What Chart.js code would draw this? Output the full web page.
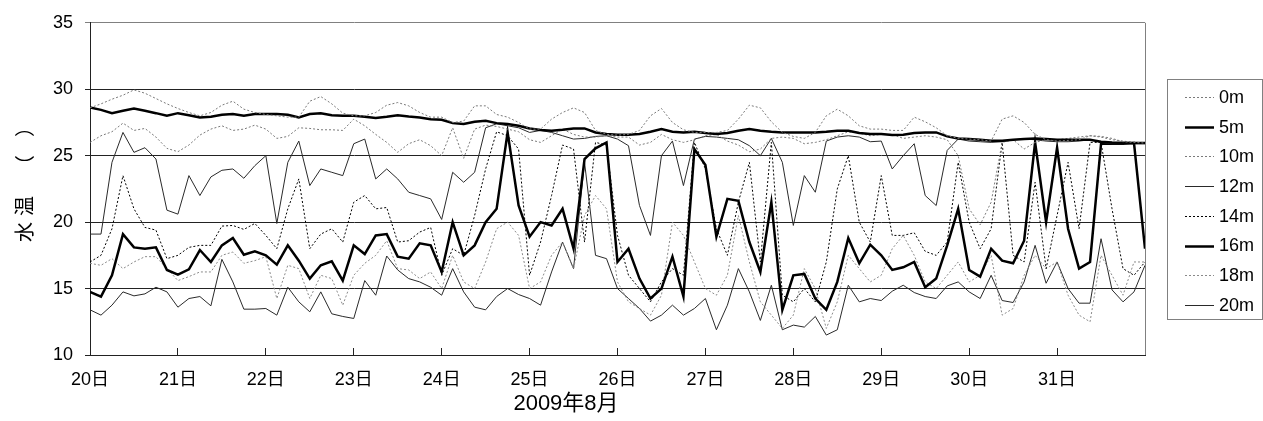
<!DOCTYPE html>
<html>
<head>
<meta charset="utf-8">
<script src="https://cdn.jsdelivr.net/npm/chart.js@4.4.1/dist/chart.umd.min.js"></script>
<style>
  html, body { margin: 0; padding: 0; background: #fff; }
  canvas { display: block; }
</style>
</head>
<body>
<canvas id="chart" width="1263" height="421"></canvas>
<script>
// sample times: every 3 hours, as day of month (20.0 = 20日 0時 ... 32.0 = 31日 24時)
const times = [];
for (let h = 0; h <= 288; h += 3) times.push(20 + h / 24);

const depths = ['0m', '5m', '10m', '12m', '14m', '16m', '18m', '20m'];

// water temperature (℃)
const temp0m = [
  28.6, 28.9, 29.25, 29.55, 29.95, 29.7, 29.3, 28.9,
  28.55, 28.25, 28.0, 28.25, 28.8, 29.1, 28.5, 28.25,
  28.1, 28.0, 27.9, 27.9, 29.1, 29.45, 28.9, 28.2,
  28.0, 28.0, 28.25, 28.8, 29.0, 28.75, 28.25, 27.9,
  27.9, 27.5, 27.6, 28.75, 28.75, 28.1, 27.9, 27.5,
  27.0, 27.0, 27.75, 28.25, 28.6, 28.25, 26.9, 26.6,
  26.55, 26.6, 26.9, 28.0, 28.55, 27.5, 26.95, 26.75,
  26.75, 26.75, 26.9, 27.75, 28.8, 28.6, 27.55, 26.75,
  26.45, 26.3, 26.75, 28.0, 28.5, 28.0, 27.25, 27.0,
  27.0, 26.9, 26.9, 27.9, 27.55, 27.1, 26.5, 26.3,
  26.25, 26.2, 26.1, 27.75, 28.0, 27.5, 26.6, 26.2,
  26.1, 26.15, 26.2, 26.5, 26.45, 26.3, 26.05, 26.0,
  25.95
];
const temp5m = [
  28.63, 28.45, 28.2, 28.38, 28.55, 28.38, 28.2, 28.0,
  28.2, 28.05, 27.88, 27.93, 28.08, 28.13, 28.0, 28.13,
  28.13, 28.13, 28.08, 27.88, 28.13, 28.2, 28.05, 28.0,
  28.0, 27.93, 27.83, 27.93, 28.05, 27.95, 27.88, 27.75,
  27.7, 27.45, 27.38, 27.55, 27.63, 27.45, 27.38, 27.25,
  27.05, 26.93, 26.88, 26.95, 27.05, 27.05, 26.75, 26.63,
  26.58, 26.58, 26.63, 26.8, 27.0, 26.8, 26.75, 26.8,
  26.7, 26.63, 26.7, 26.88, 27.0, 26.88, 26.8, 26.75,
  26.75, 26.75, 26.75, 26.8, 26.88, 26.88, 26.7, 26.63,
  26.63, 26.55, 26.58, 26.7, 26.75, 26.75, 26.45, 26.3,
  26.25, 26.2, 26.13, 26.13, 26.2, 26.25, 26.3, 26.25,
  26.2, 26.2, 26.2, 26.2, 26.05, 26.0, 25.98, 25.95,
  25.95
];
const temp10m = [
  26.0, 26.5, 26.8, 27.45, 26.9, 27.05, 26.4, 25.55,
  25.3, 25.8, 26.55, 27.0, 27.25, 26.9, 27.0, 27.3,
  27.0, 26.3, 26.45, 27.1, 27.05, 26.95, 26.95, 26.9,
  27.75, 27.25, 26.6, 26.0, 25.25, 25.9, 26.2, 25.75,
  25.0, 27.1, 24.8, 27.0, 27.3, 27.2, 27.0, 26.8,
  26.2, 26.0, 26.5, 27.0, 26.6, 26.4, 26.4, 26.5,
  26.4, 26.4, 25.8, 26.0, 26.6, 26.2, 26.0, 26.2,
  26.5, 26.6, 26.1, 25.8, 25.3, 25.5, 26.3, 26.4,
  26.3, 25.9, 26.0, 26.2, 26.5, 26.8, 26.7, 26.5,
  26.6, 26.6, 26.3, 26.4, 26.5, 26.4, 26.2, 25.0,
  21.0, 19.8, 21.5, 26.0, 26.2, 25.5, 26.0, 26.2,
  26.2, 26.3, 26.4, 26.5, 26.4, 26.2, 26.1, 26.0,
  26.0
];
const temp12m = [
  19.1, 19.1, 24.5, 26.75, 25.25, 25.6, 24.75, 20.9,
  20.6, 23.5, 22.0, 23.4, 23.9, 24.0, 23.3, 24.25,
  25.0, 19.9, 24.5, 26.1, 22.75, 24.0, 23.75, 23.5,
  25.9, 26.25, 23.25, 24.0, 23.25, 22.25, 22.0, 21.75,
  20.2, 23.75, 23.0, 23.75, 27.1, 27.4, 27.25, 27.1,
  26.75, 26.9, 26.75, 26.5, 26.25, 26.3, 26.45, 26.5,
  26.25, 25.75, 21.25, 19.0, 25.0, 26.1, 22.75, 26.25,
  26.45, 26.4, 26.3, 26.2, 25.75, 25.0, 26.3, 24.5,
  19.75, 23.5, 22.25, 26.1, 26.4, 26.5, 26.4, 26.05,
  26.1, 24.0, 25.0, 25.9, 22.0, 21.25, 25.4, 26.25,
  26.1, 26.05, 26.0, 26.05, 26.2, 26.25, 26.2, 26.1,
  26.05, 26.05, 26.1, 26.2, 26.0, 25.9, 25.9, 25.9,
  25.9
];
const temp14m = [
  17.0, 17.5, 19.5, 23.5, 21.0, 19.6, 19.4, 17.25,
  17.5, 18.1, 18.25, 18.25, 19.7, 19.75, 19.45, 19.9,
  19.0, 18.0, 21.0, 23.25, 18.0, 19.1, 19.5, 18.5,
  21.5, 22.0, 21.0, 21.1, 18.5, 18.6, 19.25, 19.6,
  16.0, 18.0, 17.5, 20.5, 24.0, 26.8, 26.5, 25.5,
  16.0, 18.5, 22.0, 25.8, 25.5, 18.5, 26.0, 25.8,
  19.0, 16.0, 15.0, 14.0, 15.5, 16.5, 16.0, 26.0,
  24.0, 19.5, 17.5, 21.5, 24.5, 17.0, 26.0, 14.5,
  14.0, 15.0, 14.0, 17.0, 22.5, 25.0, 20.0, 18.5,
  23.5, 19.0, 19.0, 19.2, 17.8, 17.5, 18.5, 24.5,
  20.0, 18.0, 19.5, 26.0, 17.5, 17.0, 23.0, 16.5,
  20.5, 24.5, 19.5, 26.0, 26.0, 21.0, 16.5, 16.0,
  17.0
];
const temp16m = [
  14.75, 14.4, 16.0, 19.1, 18.1, 18.0, 18.1, 16.4,
  16.05, 16.45, 17.9, 17.0, 18.25, 18.8, 17.55, 17.8,
  17.5, 16.8, 18.25, 17.1, 15.75, 16.75, 17.05, 15.6,
  18.25, 17.6, 19.0, 19.1, 17.4, 17.25, 18.4, 18.25,
  16.25, 20.0, 17.5, 18.25, 20.0, 21.0, 26.75, 21.25,
  18.9, 20.0, 19.75, 21.0, 18.0, 24.75, 25.55, 26.0,
  17.0, 18.0, 15.75, 14.25, 15.0, 17.4, 14.4, 25.5,
  24.3, 18.9, 21.75, 21.6, 18.5, 16.25, 21.5, 13.4,
  16.0, 16.1, 14.25, 13.4, 15.5, 18.8, 16.9, 18.3,
  17.5, 16.4, 16.6, 17.0, 15.1, 15.75, 18.25, 21.0,
  16.4, 15.9, 18.0, 17.1, 16.9, 18.6, 26.0, 20.0,
  25.6, 19.5, 16.5, 17.0, 25.9, 25.9, 25.9, 25.95,
  18.0
];
const temp18m = [
  16.9, 16.75, 17.25, 16.5, 17.0, 17.4, 17.4, 16.5,
  15.6, 15.9, 16.25, 16.25, 17.5, 17.75, 16.9, 17.1,
  17.4, 14.25, 16.75, 16.5, 14.25, 16.0, 15.75, 13.75,
  16.0, 16.9, 17.5, 18.6, 16.5, 16.4, 15.75, 16.25,
  15.0, 17.5, 15.5, 15.0, 17.0, 19.5, 20.0, 19.0,
  15.0, 15.5, 17.5, 18.5, 16.5, 20.5, 22.0, 21.0,
  15.5, 14.0, 13.5, 13.0, 14.5, 20.0, 19.0, 17.0,
  15.0, 14.5, 16.0, 20.5, 17.0, 14.0, 13.0, 12.0,
  13.0, 16.5, 15.0, 12.0, 14.0, 17.5, 16.5, 15.5,
  16.0, 18.0, 19.0, 17.5, 15.5, 15.0, 16.0, 17.0,
  15.5, 16.0, 17.5, 13.0, 13.5, 16.0, 17.5, 16.5,
  17.0, 14.5, 13.0, 12.5, 17.5, 16.0, 14.5, 17.0,
  17.0
];
const temp20m = [
  13.4, 13.0, 13.75, 14.75, 14.45, 14.6, 15.1, 14.75,
  13.6, 14.25, 14.4, 13.7, 17.2, 15.5, 13.45, 13.45,
  13.5, 13.0, 15.1, 14.0, 13.25, 14.75, 13.1, 12.9,
  12.75, 15.6, 14.5, 17.45, 16.4, 15.75, 15.5, 15.1,
  14.5, 16.5, 14.75, 13.6, 13.4, 14.4, 15.0, 14.55,
  14.25, 13.75, 16.25, 18.5, 16.5, 24.5, 17.5, 17.25,
  15.0, 14.25, 13.5, 12.55, 13.0, 13.75, 13.0, 13.5,
  14.25, 11.9, 13.75, 16.5, 14.75, 12.6, 15.25, 11.9,
  12.25, 12.1, 12.9, 11.5, 11.9, 15.25, 14.0, 14.25,
  14.1, 14.8, 15.25, 14.7, 14.4, 14.25, 15.2, 15.5,
  14.75, 14.25, 16.0, 14.1, 13.95, 15.5, 18.25, 15.4,
  17.0, 15.0, 13.9, 13.9, 18.75, 14.9, 14.0, 14.75,
  16.75
];

const seriesValues = [temp0m, temp5m, temp10m, temp12m, temp14m, temp16m, temp18m, temp20m];

const yTitleChars = ['水', '温', '（', '）'];
const xTitle = '2009年8月';

// line looks per depth (dotted / thick / thin)
const lineStyles = [
  { color: '#7a7a7a', width: 1, dash: [2, 2] },
  { color: '#000000', width: 2.5, dash: [] },
  { color: '#7a7a7a', width: 1, dash: [2, 2] },
  { color: '#2a2a2a', width: 1, dash: [] },
  { color: '#000000', width: 1, dash: [2, 2] },
  { color: '#000000', width: 2.5, dash: [] },
  { color: '#8a8a8a', width: 1, dash: [2, 2] },
  { color: '#2a2a2a', width: 1, dash: [] }
];

const FONT = '"Liberation Sans", Arial, "Noto Sans CJK JP", sans-serif';
const CJK_FONT = '"Noto Sans CJK JP", "Noto Sans CJK SC", sans-serif';

const datasets = depths.map((name, i) => ({
  label: name,
  data: seriesValues[i],
  borderColor: lineStyles[i].color,
  borderWidth: lineStyles[i].width,
  borderDash: lineStyles[i].dash,
  pointRadius: 0,
  tension: 0,
  fill: false
}));

// titles, right frame line and boxed legend
const decorations = {
  id: 'decorations',
  afterDraw(chart) {
    const { ctx, chartArea: a } = chart;
    ctx.save();

    ctx.strokeStyle = '#808080';
    ctx.lineWidth = 1;
    ctx.setLineDash([]);
    ctx.beginPath();
    ctx.moveTo(Math.round(a.right) + 0.5, a.top);
    ctx.lineTo(Math.round(a.right) + 0.5, a.bottom);
    ctx.stroke();

    // y title, rotated, read bottom to top
    ctx.fillStyle = '#000';
    ctx.font = '20px ' + CJK_FONT;
    ctx.textAlign = 'center';
    ctx.textBaseline = 'middle';
    const yPos = [232, 206, 165, 127];
    yTitleChars.forEach((ch, i) => {
      ctx.save();
      ctx.translate(24, yPos[i]);
      ctx.rotate(-Math.PI / 2);
      ctx.fillText(ch, 0, 0);
      ctx.restore();
    });

    // x title
    ctx.font = '22px ' + FONT;
    ctx.fillText(xTitle, 566, 404);

    // legend
    const lx = 1167.5, ly = 79.5, lw = 95, lh = 240;
    ctx.strokeStyle = '#808080';
    ctx.strokeRect(lx, ly, lw, lh);
    ctx.font = '18px ' + FONT;
    ctx.textAlign = 'left';
    chart.data.datasets.forEach((ds, i) => {
      const y = 97 + i * 29.7;
      ctx.strokeStyle = ds.borderColor;
      ctx.lineWidth = ds.borderWidth;
      ctx.setLineDash(ds.borderDash);
      ctx.beginPath();
      ctx.moveTo(1185, Math.round(y) + 0.5);
      ctx.lineTo(1214, Math.round(y) + 0.5);
      ctx.stroke();
      ctx.fillStyle = '#000';
      ctx.fillText(ds.label, 1219, y + 1);
    });
    ctx.restore();
  }
};

new Chart(document.getElementById('chart'), {
  type: 'line',
  data: { labels: times, datasets },
  options: {
    responsive: false,
    animation: false,
    devicePixelRatio: 1,
    layout: { padding: { top: 21, right: 118, bottom: 0, left: 0 } },
    plugins: {
      legend: { display: false },
      tooltip: { enabled: false }
    },
    scales: {
      x: {
        type: 'linear',
        min: 20,
        max: 32,
        afterFit(scale) { scale.height = 66; },
        ticks: {
          stepSize: 1,
          autoSkip: false,
          maxRotation: 0,
          padding: 21,
          color: '#000',
          font: { size: 18, family: FONT },
          callback: (v) => (v < 32 ? v + '日' : '')
        },
        grid: {
          drawOnChartArea: false,
          drawTicks: true,
          tickLength: -7,
          color: '#222'
        },
        border: { display: true, color: '#222', width: 1 }
      },
      y: {
        min: 10,
        max: 35,
        afterFit(scale) { scale.width = 90; },
        ticks: {
          stepSize: 5,
          padding: 12,
          color: '#000',
          font: { size: 18, family: FONT }
        },
        grid: {
          color: (c) => (c.tick && c.tick.value === 35 ? '#808080' : '#222'),
          tickLength: 5,
          lineWidth: 1
        },
        border: { display: true, color: '#222', width: 1 }
      }
    }
  },
  plugins: [decorations]
});
</script>
</body>
</html>
